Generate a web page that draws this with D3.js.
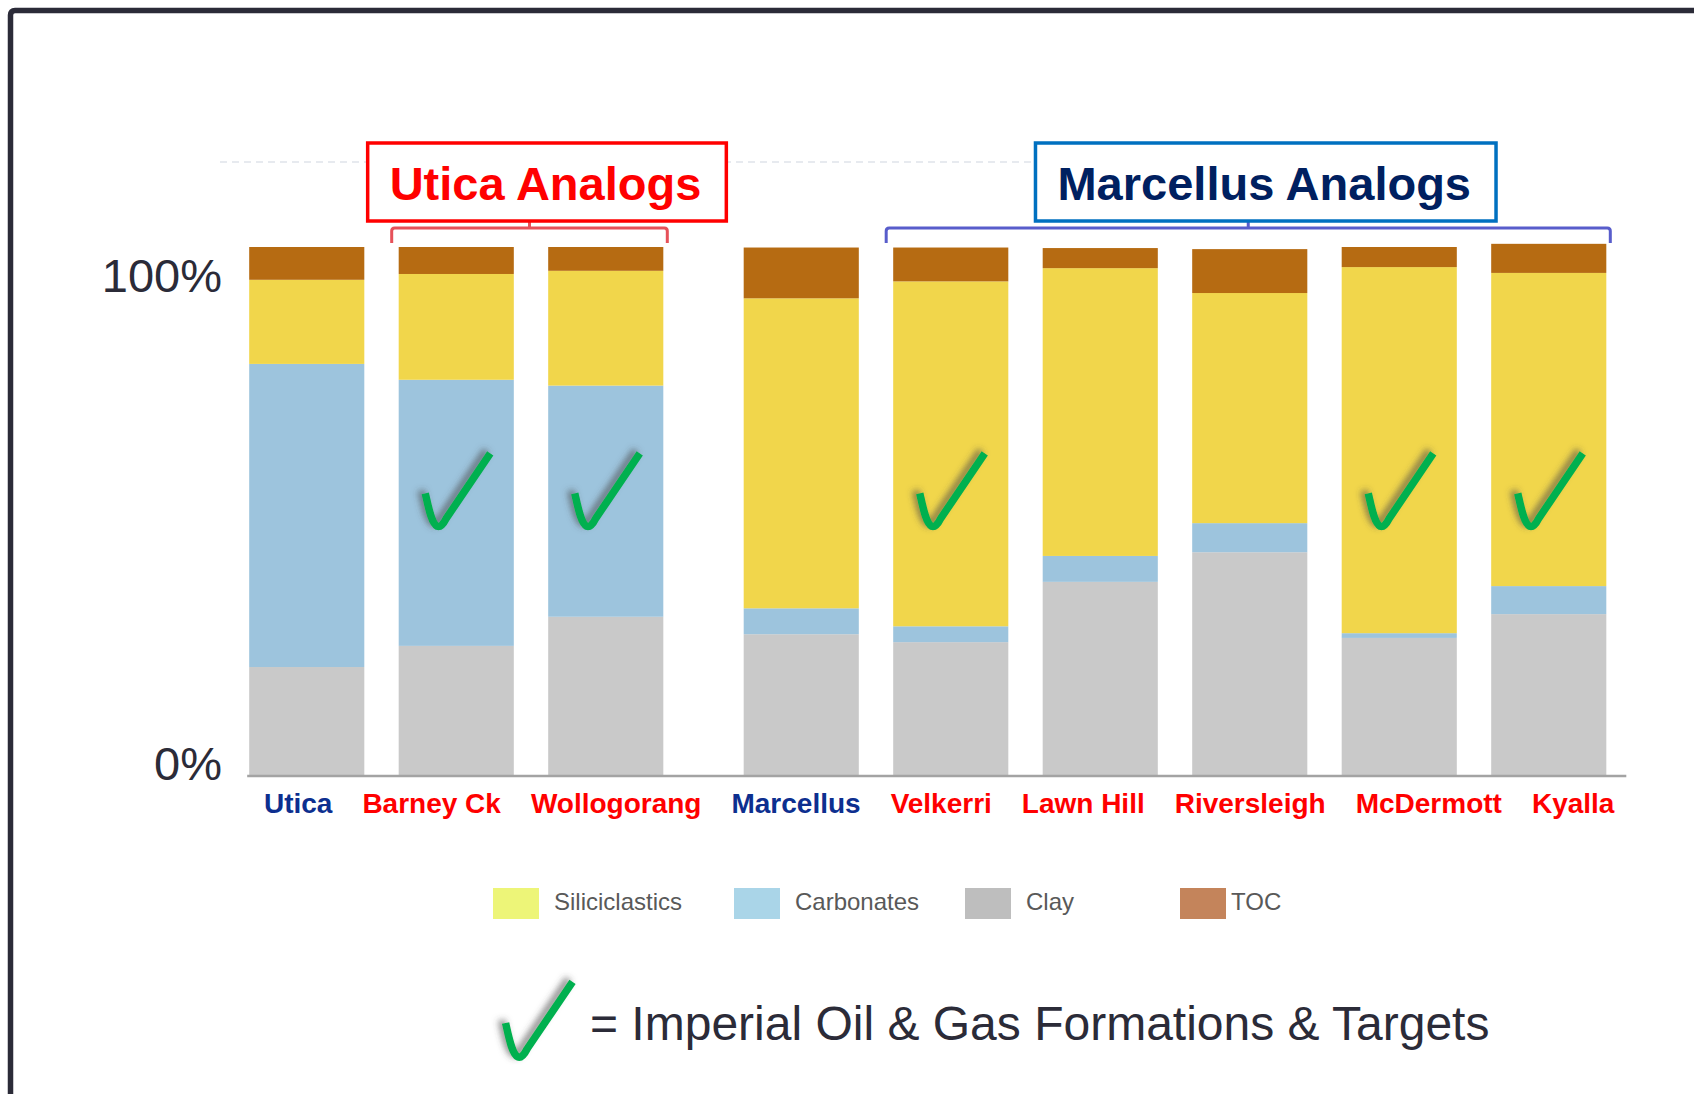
<!DOCTYPE html>
<html>
<head>
<meta charset="utf-8">
<script src="https://cdn.jsdelivr.net/npm/d3@7"></script>
<style>
  html, body { margin: 0; padding: 0; background: #fff; }
  svg { display: block; font-family: "Liberation Sans", Arial, sans-serif; }
</style>
</head>
<body>
<div id="chart"></div>
<script>
// formations, left to right
const formations = ['Utica', 'Barney Ck', 'Wollogorang', 'Marcellus', 'Velkerri', 'Lawn Hill', 'Riversleigh', 'McDermott', 'Kyalla'];
// which US shale each formation is an analog of (null = the US reference itself)
const analogOf = [null, 'Utica', 'Utica', null, 'Marcellus', 'Marcellus', 'Marcellus', 'Marcellus', 'Marcellus'];
// Imperial Oil & Gas targets get a tick
const isTarget = [false, true, true, false, true, false, false, true, true];

// composition, % (stacked bottom to top)
const clay           = [20.6, 24.6, 30.1, 26.8, 25.3, 36.7, 42.3, 26.1, 30.6];
const carbonates     = [57.3, 50.3, 43.7,  4.9,  3.0,  4.9,  5.5,  0.9,  5.3];
const siliciclastics = [15.9, 20.0, 21.7, 58.6, 65.2, 54.4, 43.5, 69.2, 59.2];
const toc            = [ 6.2,  5.1,  4.5,  9.6,  6.4,  3.8,  8.3,  3.8,  5.5];

const yTicks = [0, 100];
const legendOrder = ['Siliciclastics', 'Carbonates', 'Clay', 'TOC'];
const footnote = '= Imperial Oil & Gas Formations & Targets';

const W = 1694, H = 1094;
const barColor = { Clay: '#c9c9c9', Carbonates: '#9dc4dd', Siliciclastics: '#f1d64b', TOC: '#b66b12' };
const swatchColor = { Siliciclastics: '#edf578', Carbonates: '#aad5e8', Clay: '#bebebe', TOC: '#c4845b' };
const NAVY = '#0d2f8f', RED = '#ff0000', INK = '#2b2b38';

const rows = formations.map((f, i) => ({
  name: f, Clay: clay[i], Carbonates: carbonates[i],
  Siliciclastics: siliciclastics[i], TOC: toc[i],
  analog: analogOf[i], target: isTarget[i]
}));
// cluster = index of the US reference this bar sits after
let c = -1;
rows.forEach(d => { if (d.analog === null) c++; d.cluster = c; });

const svg = d3.select('#chart').append('svg').attr('width', W).attr('height', H);

const defs = svg.append('defs');
defs.append('filter').attr('id', 'shadow')
  .attr('x', '-50%').attr('y', '-50%').attr('width', '200%').attr('height', '200%')
  .append('feDropShadow')
  .attr('dx', -4).attr('dy', -3).attr('stdDeviation', 3)
  .attr('flood-color', '#444').attr('flood-opacity', 0.6);

// frame (only top and left edge visible)
svg.append('path')
  .attr('d', `M10.5,${H} V15 Q10.5,10.5 15,10.5 H${W}`)
  .attr('fill', 'none').attr('stroke', INK).attr('stroke-width', 5.5);

const GAP = 46;
const x = d3.scaleBand().domain(formations).range([232, 1577.5])
  .paddingInner(0.23).paddingOuter(0.115);
const xs = d => x(d.name) + d.cluster * GAP;
const y = d3.scaleLinear().domain([0, 100]).range([776, 247]);

// faint dashed line from the original chart
svg.append('line')
  .attr('x1', 220).attr('x2', xs(rows[rows.length - 1]) - 28)
  .attr('y1', 162).attr('y2', 162)
  .attr('stroke', '#dfe4ea').attr('stroke-width', 1.5).attr('stroke-dasharray', '7,5');

const keys = ['Clay', 'Carbonates', 'Siliciclastics', 'TOC'];
const series = d3.stack().keys(keys)(rows);

svg.append('g').selectAll('g')
  .data(series)
  .join('g')
  .attr('fill', s => barColor[s.key])
  .selectAll('rect')
  .data(s => s)
  .join('rect')
  .attr('x', d => xs(d.data))
  .attr('y', d => y(d[1]))
  .attr('width', x.bandwidth())
  .attr('height', d => y(d[0]) - y(d[1]));

// baseline
const first = rows[0], last = rows[rows.length - 1];
svg.append('line')
  .attr('x1', xs(first) - 2).attr('x2', xs(last) + x.bandwidth() + 20)
  .attr('y1', y(0)).attr('y2', y(0))
  .attr('stroke', '#a3a3a3').attr('stroke-width', 2.5);

// y labels
const yAxis = svg.append('g').attr('transform', 'translate(222,0)')
  .call(d3.axisLeft(y).tickValues(yTicks).tickSize(0).tickPadding(0).tickFormat(d => d + '%'));
yAxis.select('.domain').remove();
yAxis.selectAll('text')
  .attr('font-family', '"Liberation Sans", Arial, sans-serif')
  .attr('font-size', 47).attr('fill', INK)
  .attr('dy', d => d === 100 ? '0.95em' : '0.08em');

// category labels: start centred on the bar, then push neighbours apart
const labels = svg.append('g').selectAll('text')
  .data(rows)
  .join('text')
  .attr('y', 813)
  .attr('text-anchor', 'middle')
  .attr('font-size', 28).attr('font-weight', 'bold')
  .attr('fill', d => d.analog === null ? NAVY : RED)
  .text(d => d.name);
labels.each(function (d) { d.lw = this.getComputedTextLength(); d.lx = xs(d) + x.bandwidth() / 2; });
const MIN_GAP = 30;
for (let k = 0; k < 50; k++) {
  for (let i = 0; i < rows.length - 1; i++) {
    const a = rows[i], b = rows[i + 1];
    const over = (a.lx + a.lw / 2 + MIN_GAP) - (b.lx - b.lw / 2);
    if (over > 0) { a.lx -= over / 2; b.lx += over / 2; }
  }
}
labels.attr('x', d => d.lx);

// tick marks
function tickPath(g, s) {
  g.append('path')
    .attr('d', `M${-14 * s},${-33 * s} C${-11 * s},${-20 * s} ${-8 * s},${-3 * s} ${-2 * s},${0} C${1 * s},${1 * s} ${4 * s},${-2 * s} ${7 * s},${-8 * s} L${51 * s},${-73 * s}`)
    .attr('fill', 'none').attr('stroke', '#00b050')
    .attr('stroke-width', 7.5).attr('stroke-linejoin', 'round')
    .attr('filter', 'url(#shadow)');
}
const CHECK_AT = 47.2;
svg.append('g').selectAll('g')
  .data(rows.filter(d => d.target))
  .join('g')
  .attr('transform', d => `translate(${xs(d) + x.bandwidth() / 2 - 17},${y(CHECK_AT)})`)
  .each(function () { tickPath(d3.select(this), 1); });

// analog brackets + boxes
const groups = [
  { name: 'Utica', label: 'Utica Analogs', box: '#ff0000', text: '#ff0000', bracket: '#e2323c' },
  { name: 'Marcellus', label: 'Marcellus Analogs', box: '#0070c0', text: '#002060', bracket: '#3b41c2' }
];
groups.forEach(gp => {
  const mem = rows.filter(d => d.analog === gp.name);
  const x0 = d3.min(mem, d => xs(d)) - 7;
  const x1 = d3.max(mem, d => xs(d) + x.bandwidth()) + 4;
  const cx = (x0 + x1) / 2;
  const by = 228, bb = 243;
  const g = svg.append('g');
  g.append('path')
    .attr('d', `M${x0},${bb} V${by + 3} Q${x0},${by} ${x0 + 3},${by} H${x1 - 3} Q${x1},${by} ${x1},${by + 3} V${bb} M${cx},${by} V222`)
    .attr('fill', 'none').attr('stroke', gp.bracket).attr('stroke-width', 3).attr('opacity', 0.85);

  const box = g.append('rect');
  const t = g.append('text')
    .attr('x', cx + 16).attr('y', 200)
    .attr('text-anchor', 'middle')
    .attr('font-size', 47).attr('font-weight', 'bold')
    .attr('fill', gp.text)
    .text(gp.label);
  const b = t.node().getBBox();
  box.attr('x', b.x - 22).attr('y', 143)
    .attr('width', b.width + 47).attr('height', 78)
    .attr('fill', '#fff').attr('stroke', gp.box).attr('stroke-width', 3.5);
});

// legend
const legendX = [493, 734, 965, 1180];
const lg = svg.append('g').selectAll('g')
  .data(legendOrder)
  .join('g')
  .attr('transform', (d, i) => `translate(${legendX[i]},888)`);
lg.append('rect').attr('width', 46).attr('height', 31).attr('fill', d => swatchColor[d]);
lg.append('text')
  .attr('x', d => d === 'TOC' ? 51 : 61).attr('y', 22)
  .attr('font-size', 24).attr('fill', '#595959')
  .text(d => d);

// footnote
const fn = svg.append('g').attr('transform', 'translate(520,1057)');
tickPath(fn, 1.03);
svg.append('text')
  .attr('x', 590).attr('y', 1040)
  .attr('font-size', 48).attr('fill', INK)
  .text(footnote);
</script>
</body>
</html>
